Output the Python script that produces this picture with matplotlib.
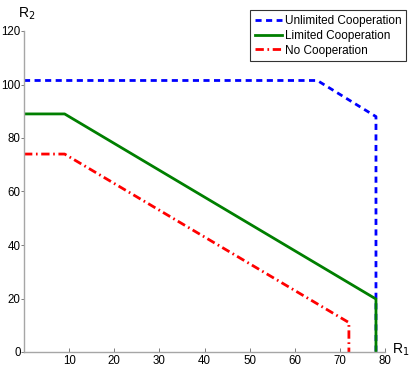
import matplotlib
matplotlib.use("Agg")
import matplotlib.pyplot as plt

# 경계 꼭짓점 (R1, R2)
unlimited_r1 = [0, 65, 78, 78]
unlimited_r2 = [101.5, 101.5, 88, 0]
limited_r1 = [0, 9, 78, 78]
limited_r2 = [89, 89, 19.8, 0]
none_r1 = [0, 9, 72, 72]
none_r2 = [74, 74, 11, 0]

xticks = [10, 20, 30, 40, 50, 60, 70, 80]
yticks = [0, 20, 40, 60, 80, 100, 120]

plt.rcParams["font.family"] = ["Liberation Sans", "DejaVu Sans"]

fig = plt.figure(figsize=(4.15, 3.67), dpi=100)
ax = fig.add_axes((24 / 415, 15 / 367, 361 / 415, 321 / 367))

ax.plot(unlimited_r1, unlimited_r2, color="#0000ff", linestyle=(0, (2.2, 1.6)),
        linewidth=2.0, label="Unlimited Cooperation")
ax.plot(limited_r1, limited_r2, color="#007f00", linestyle="-",
        linewidth=2.0, label="Limited Cooperation")
ax.plot(none_r1, none_r2, color="#ff0000", linestyle=(0, (3, 1.3, 0.6, 1.3)),
        linewidth=2.0, label="No Cooperation")

ax.set_xlim(0, 80)
ax.set_ylim(0, 120)
ax.set_xticks(xticks)
ax.set_yticks(yticks)
ax.tick_params(axis="x", direction="in", length=3, width=0.6, color="0.4",
               labelsize=8.3, pad=2)
ax.tick_params(axis="y", direction="out", length=2, width=0.6, color="0.4",
               labelsize=8.3, pad=0.5)
for side in ("top", "right"):
    ax.spines[side].set_visible(False)
for side in ("left", "bottom"):
    ax.spines[side].set_color("0.65")
    ax.spines[side].set_linewidth(1.0)

fig.text(392 / 415, 1 - 350 / 367, "R$_1$", fontsize=10, ha="left", va="center")
fig.text(27 / 415, 1 - 14 / 367, "R$_2$", fontsize=10, ha="center", va="center")

leg = ax.legend(loc="upper right", bbox_to_anchor=(406 / 415, 1 - 10 / 367),
                bbox_transform=fig.transFigure, fontsize=8.5, frameon=True,
                fancybox=False, borderpad=0.4, labelspacing=0.25,
                handlelength=2.3, handletextpad=0.2, borderaxespad=0)
leg.get_frame().set_edgecolor("black")
leg.get_frame().set_linewidth(0.8)

fig.savefig("out.png", dpi=100)
